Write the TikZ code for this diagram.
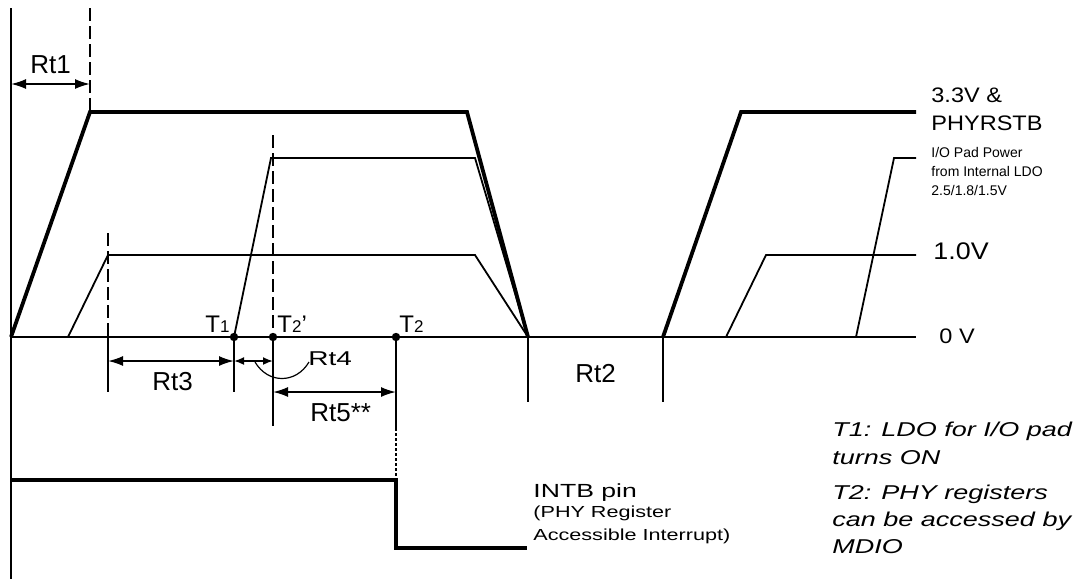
\documentclass[tikz,border=0pt]{standalone}
\usepackage{fontspec}
\setmainfont{Liberation Sans}
\newfontfamily\widesans{Liberation Sans}[FakeStretch=1.4]
\newfontfamily\midsans{Liberation Sans}[FakeStretch=1.12]
\newfontfamily\notesans{Liberation Sans}[FakeStretch=1.35]
\usetikzlibrary{arrows.meta,calc}

\tikzset{
  wave/.style={line width=0.9pt},
  rail/.style={line width=1.9pt},
  marker/.style={line width=0.9pt,dash pattern=on 6.5pt off 2.5pt},
  hint/.style={line width=0.6pt,dash pattern=on 1.5pt off 1pt},
  dimline/.style={line width=0.9pt,{Latex[length=7.5pt,width=5pt]}-{Latex[length=7.5pt,width=5pt]}},
  shortdim/.style={line width=0.9pt,{Latex[length=5pt,width=4pt]}-{Latex[length=5pt,width=4pt]}},
  rtlabel/.style={inner sep=0pt,anchor=base west,font=\fontsize{13}{15}\selectfont},
  tlabel/.style={inner sep=0pt,anchor=base west,font=\fontsize{12}{14}\selectfont},
  levellabel/.style={inner sep=0pt,anchor=base west,align=left},
  note/.style={inner sep=0pt,anchor=base west,align=left,font=\notesans\itshape\fontsize{10}{14}\selectfont}
}
\newcommand{\sub}[1]{{\fontsize{8.5}{10}\selectfont #1}}

\begin{document}
\begin{tikzpicture}[x=0.5pt,y=-0.5pt]
  \useasboundingbox (0,0) rectangle (1074,579);

  % time axis and 0 V line
  \draw[wave] (11,8) -- (11,579);
  \draw[wave] (11,337) -- (916,337);

  % 3.3V & PHYRSTB
  \draw[rail] (11,337) -- (90,112) -- (467,112) -- (528,337);
  \draw[rail] (663,337) -- (741,112) -- (916,112);
  % 1.0V
  \draw[wave] (68,337) -- (108,255) -- (475,255) -- (528,337);
  \draw[wave] (726,337) -- (766,255) -- (916,255);
  % I/O pad power from internal LDO
  \draw[wave] (234,337) -- (271,158) -- (475,158) -- (528,337);
  \draw[wave] (856,337) -- (894,158) -- (916,158);

  % event points
  \coordinate (t1) at (234,337);
  \coordinate (t2p) at (273,337);
  \coordinate (t2) at (396,337);
  \foreach \p in {t1,t2p,t2} \fill (\p) circle (2.1pt);

  % dashed markers
  \draw[marker] (90,8) -- (90,112);
  \draw[marker] (108,233) -- (108,337);
  \draw[marker] (273,135) -- (t2p);

  % extension lines below 0 V
  \draw[wave] (108,337) -- (108,392);
  \draw[wave] (t1) -- ++(0,55);
  \draw[wave] (t2p) -- ++(0,89);
  \draw[wave] (t2) -- ++(0,91) coordinate (t2low);
  \draw[hint] (t2low) -- (396,480);
  \draw[wave] (528,337) -- (528,402);
  \draw[wave] (663,337) -- (663,402);

  % timing intervals
  \draw[dimline] (11,84) -- (90,84);
  \draw[dimline] (108,361) -- (234,361);
  \draw[shortdim] (234,361) -- (273,361);
  \draw[dimline] (273,392) -- (396,392);
  \draw[line width=0.6pt] (255,362) .. controls (268,384) and (296,384) .. (309,362);

  \node[rtlabel] (rt1) at (30,73) {Rt1};
  \node[rtlabel] (rt3) at (152,390) {Rt3};
  \node[rtlabel,font=\widesans\fontsize{10}{12}\selectfont] (rt4) at (308,365) {Rt4};
  \node[rtlabel] (rt5) at (310,421) {Rt5**};
  \node[rtlabel] (rt2) at (575,382) {Rt2};

  \node[tlabel] (t1lbl) at (205,332) {T\sub{1}};
  \node[tlabel] (t2plbl) at (277,332) {T\sub{2}{\char"27}};
  \node[tlabel] (t2lbl) at (399,332) {T\sub{2}};

  % level names (anchored on their last line)
  \node[levellabel,font=\midsans\fontsize{10.5}{14}\selectfont] (vddlbl) at (931,130) {3.3V \&\\PHYRSTB};
  \node[levellabel,font=\fontsize{7}{9.5}\selectfont] (iolbl) at (931,195) {I/O Pad Power\\from Internal LDO\\2.5/1.8/1.5V};
  \node[levellabel,font=\midsans\fontsize{12}{14}\selectfont] (corelbl) at (933,259) {1.0V};
  \node[levellabel,font=\midsans\fontsize{10.5}{14}\selectfont] (gndlbl) at (939,343) {0 V};

  % INTB
  \draw[rail] (11,480) -- (396,480) -- (396,548) -- (527,548);
  \node[levellabel,font=\widesans\fontsize{9.5}{12}\selectfont] (intblbl) at (533,497) {INTB pin};
  \node[levellabel,font=\notesans\fontsize{8}{11.5}\selectfont] (intbnote) at (533,540) {(PHY Register\\Accessible Interrupt)};

  % notes
  \node[note] (t1note) at (832,464) {T1: LDO for I/O pad\\turns ON};
  \node[note,font=\notesans\itshape\fontsize{10}{13.5}\selectfont] (t2note) at (832,553) {T2: PHY registers\\can be accessed by\\MDIO};
\end{tikzpicture}
\end{document}
